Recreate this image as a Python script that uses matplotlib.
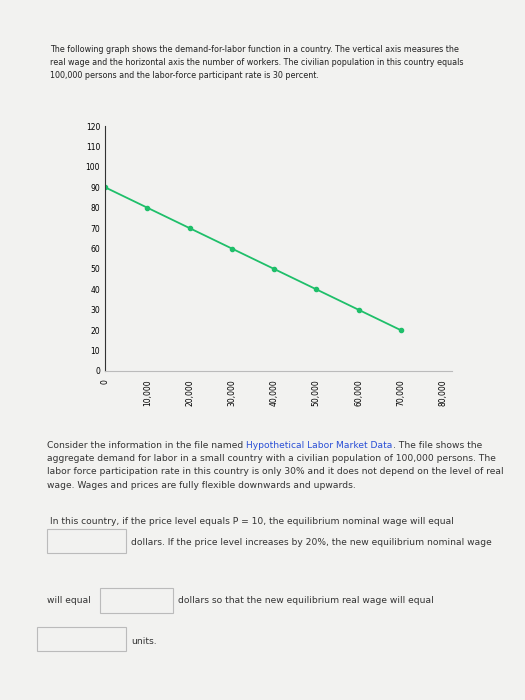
import matplotlib.pyplot as plt
from matplotlib.patches import Rectangle

workers = [0, 10000, 20000, 30000, 40000, 50000, 60000, 70000]
real_wage = [90, 80, 70, 60, 50, 40, 30, 20]
x_ticks = [0, 10000, 20000, 30000, 40000, 50000, 60000, 70000, 80000]
x_labels = ["0", "10,000", "20,000", "30,000", "40,000", "50,000", "60,000", "70,000", "80,000"]
y_ticks = list(range(0, 121, 10))

fig = plt.figure(figsize=(5.25, 7), dpi=100)
fig.patch.set_facecolor("#f2f2f0")

top = ("The following graph shows the demand-for-labor function in a country. The vertical axis measures the\n"
       "real wage and the horizontal axis the number of workers. The civilian population in this country equals\n"
       "100,000 persons and the labor-force participant rate is 30 percent.")
fig.text(0.095, 0.935, top, fontsize=5.8, va="top", color="#222", linespacing=1.5)

ax = fig.add_axes([0.20, 0.47, 0.66, 0.35])
ax.set_facecolor("#f2f2f0")
ax.plot(workers, real_wage, color="#1fbf6a", lw=1.3, marker="o", ms=3)
ax.set_xlim(0, 82000)
ax.set_ylim(0, 120)
ax.set_yticks(y_ticks)
ax.set_xticks(x_ticks)
ax.set_xticklabels(x_labels, rotation=90, fontsize=5.5)
ax.tick_params(axis="y", labelsize=5.5, length=0)
ax.tick_params(axis="x", length=0, pad=6)
for s in ["top", "right"]:
    ax.spines[s].set_visible(False)
ax.spines["left"].set_color("#333")
ax.spines["bottom"].set_color("#bbb")

# first body line in pieces so the file name can be blue
t1 = fig.text(0.09, 0.36, "Consider the information in the file named ", fontsize=6.6, va="baseline", color="#333")
t2 = ax.annotate("Hypothetical Labor Market Data", xy=(1, 0), xycoords=t1, va="bottom",
                 fontsize=6.6, color="#2a4fd6", annotation_clip=False)
ax.annotate(". The file shows the", xy=(1, 0), xycoords=t2, va="bottom",
            fontsize=6.6, color="#333", annotation_clip=False)
body = ("aggregate demand for labor in a small country with a civilian population of 100,000 persons. The\n"
        "labor force participation rate in this country is only 30% and it does not depend on the level of real\n"
        "wage. Wages and prices are fully flexible downwards and upwards.")
fig.text(0.09, 0.351, body, fontsize=6.6, va="top", color="#333", linespacing=1.6)

fig.text(0.095, 0.252, "In this country, if the price level equals P = 10, the equilibrium nominal wage will equal",
         fontsize=6.6, color="#333")
fig.text(0.25, 0.222, "dollars. If the price level increases by 20%, the new equilibrium nominal wage",
         fontsize=6.6, color="#333")
fig.text(0.09, 0.138, "will equal", fontsize=6.6, color="#333")
fig.text(0.34, 0.138, "dollars so that the new equilibrium real wage will equal", fontsize=6.6, color="#333")
fig.text(0.25, 0.08, "units.", fontsize=6.6, color="#333")
for (x, y, w, h) in [(0.09, 0.21, 0.15, 0.035), (0.19, 0.125, 0.14, 0.035), (0.07, 0.07, 0.17, 0.035)]:
    fig.patches.append(Rectangle((x, y), w, h, transform=fig.transFigure, fill=False, ec="#bbb", lw=0.8))

fig.savefig("out.png", dpi=100, facecolor=fig.get_facecolor())
